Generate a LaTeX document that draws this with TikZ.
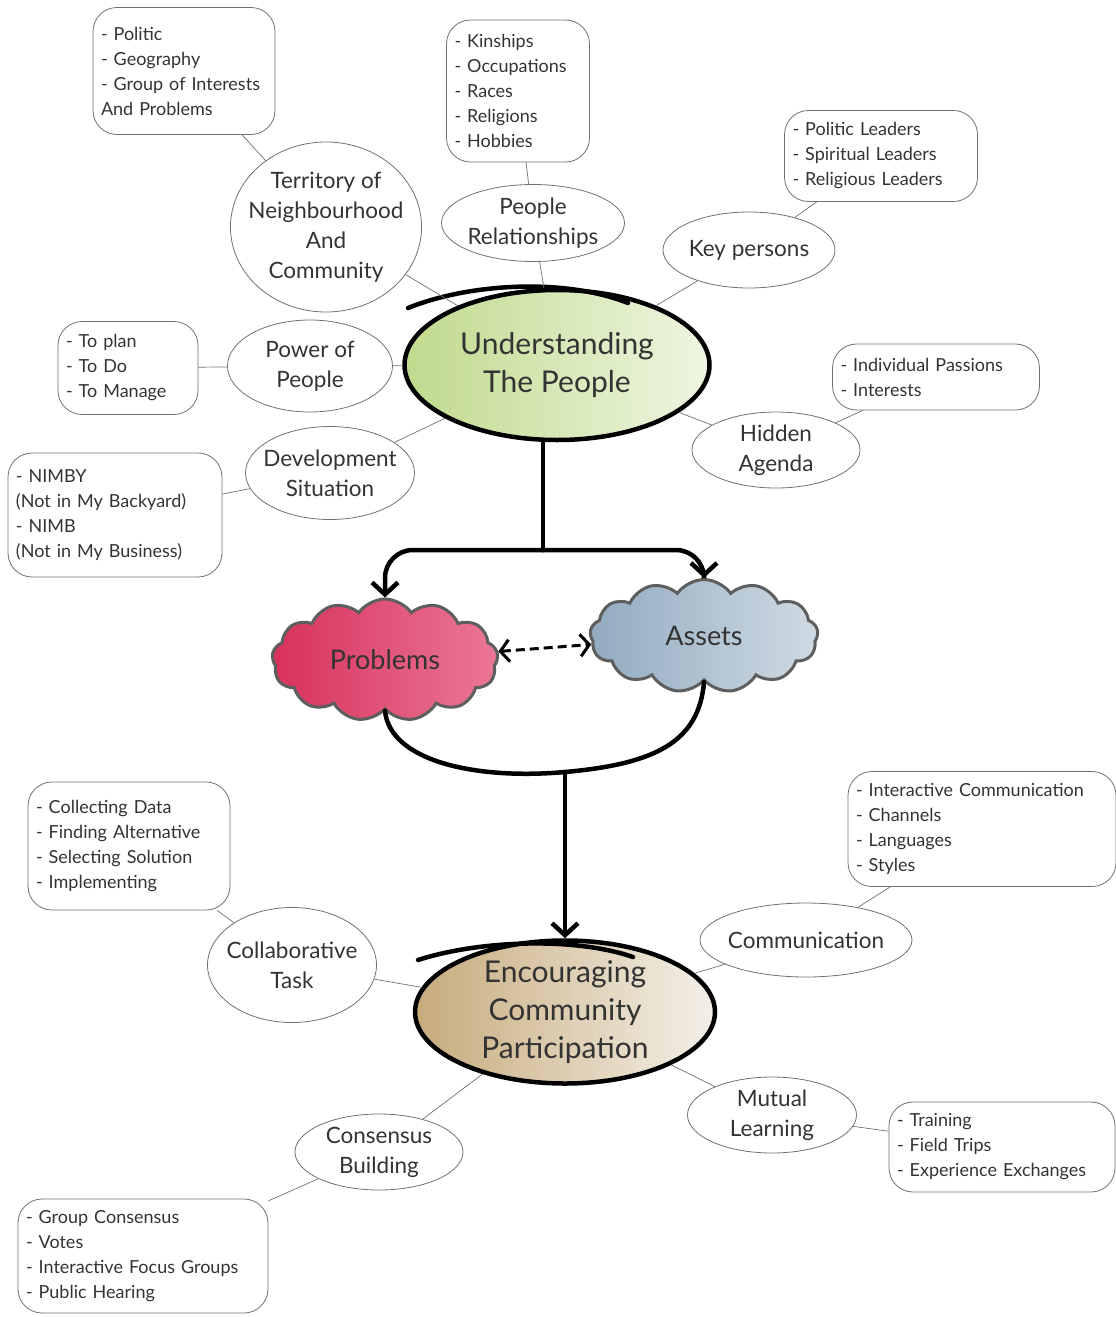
\documentclass[tikz,border=0pt]{standalone}
\usepackage{fontspec}
\setmainfont{Lato}
\usepackage{xcolor}
\usepackage{tikz}
\usetikzlibrary{positioning}
\usetikzlibrary{shapes.geometric,shapes.symbols}
\usetikzlibrary{arrows.meta}

\definecolor{ink}{HTML}{333333}
\definecolor{linegray}{HTML}{707070}
\definecolor{cloudgray}{HTML}{5E5E5E}
\definecolor{leafL}{HTML}{BFDA8C}
\definecolor{leafR}{HTML}{EEF6E2}
\definecolor{roseL}{HTML}{D8315A}
\definecolor{roseR}{HTML}{EA7896}
\definecolor{slateL}{HTML}{92AABF}
\definecolor{slateR}{HTML}{CFDBE4}
\definecolor{sandL}{HTML}{C6AB7C}
\definecolor{sandR}{HTML}{F4F0E8}

\begin{document}
\begin{tikzpicture}[x=1pt,y=-1pt,
		topic/.style={ellipse,draw=linegray,line width=0.8pt,align=center,inner sep=-10pt,text=ink,font=\fontsize{22.5}{30}\selectfont},
		items/.style={rectangle,rounded corners=24pt,draw=linegray,line width=0.8pt,align=left,inner xsep=8pt,inner ysep=0pt,text=ink,font=\fontsize{18}{25}\selectfont},
		hub/.style={ellipse,draw=black,line width=4.5pt,align=center,inner sep=-12pt,text=ink,font=\fontsize{30}{38}\selectfont},
		puff/.style={cloud,cloud puffs=13,cloud puff arc=110,aspect=1.9,draw=cloudgray,line width=3pt,inner sep=0pt,text=ink,font=\fontsize{27}{30}\selectfont},
		link/.style={draw=linegray,line width=0.7pt},
		flow/.style={line width=4.5pt,line cap=round},
		barb/.style={-{Straight Barb[length=12pt,width=26pt]}}]
		\useasboundingbox (0,0) rectangle (1116,1317);
		
		% Understanding the people
		\node[hub,minimum width=305pt,minimum height=150pt,left color=leafL,right color=leafR] at (557,365) (u0) {Understanding\\The People};
		\draw[flow] (408,308) .. controls (470,283) and (565,278) .. (628,303);
		
		\node[topic,minimum width=189pt,minimum height=170pt] at (326,227) (u1) {Territory of\\Neighbourhood\\And\\Community};
		\node[items,text width=166pt,minimum height=127pt] at (184,71) (u1a) {- Politic\\- Geography\\- Group of Interests\\And Problems};
		\node[topic,minimum width=183pt,minimum height=77pt] at (533,223) (u2) {People\\Relationships};
		\node[items,text width=127pt,minimum height=142pt] at (518,91) (u2a) {- Kinships\\- Occupations\\- Races\\- Religions\\- Hobbies};
		\node[topic,minimum width=172pt,minimum height=76pt] at (749,250) (u3) {Key persons};
		\node[items,text width=177pt,minimum height=91pt] at (881,156) (u3a) {- Politic Leaders\\- Spiritual Leaders\\- Religious Leaders};
		\node[topic,minimum width=165pt,minimum height=92pt] at (310,366) (u4) {Power of\\People};
		\node[items,text width=124pt,minimum height=93pt] at (128,368) (u4a) {- To plan\\- To Do\\- To Manage};
		\node[topic,minimum width=169pt,minimum height=93pt] at (330,473) (u5) {Development\\Situation};
		\node[items,text width=198pt,minimum height=124pt] at (115,515) (u5a) {- NIMBY\\(Not in My Backyard)\\- NIMB\\(Not in My Business)};
		\node[topic,minimum width=168pt,minimum height=76pt] at (776,450) (u6) {Hidden\\Agenda};
		\node[items,text width=191pt,minimum height=66pt] at (936,377) (u6a) {- Individual Passions\\- Interests};
		
		\draw[link] (u1a) -- (u1);
		\draw[link] (u1) -- (u0);
		\draw[link] (u2a) -- (u2);
		\draw[link] (u2) -- (u0);
		\draw[link] (u3a) -- (u3);
		\draw[link] (u3) -- (u0);
		\draw[link] (u4a) -- (u4);
		\draw[link] (u4) -- (u0);
		\draw[link] (u5a) -- (u5);
		\draw[link] (u5) -- (u0);
		\draw[link] (u6a) -- (u6);
		\draw[link] (u6) -- (u0);
		
		% problems and assets
		\node[puff,minimum width=226pt,minimum height=122pt,left color=roseL,right color=roseR] at (385,660) (pr) {Problems};
		\node[puff,minimum width=228pt,minimum height=113pt,left color=slateL,right color=slateR] at (704,636) (as) {Assets};
		
		\coordinate (split) at (543,550);
		\coordinate (merge) at (565,772);
		\draw[flow] (split |- u0.south) -- (split);
		\draw[flow,barb,rounded corners=28pt] (split) -| (pr.north);
		\draw[flow,barb,rounded corners=28pt] (split) -| (as.north);
		\draw[line width=3pt,dash pattern=on 9pt off 5pt,{Straight Barb[length=9pt,width=22pt]}-{Straight Barb[length=9pt,width=22pt]}] (pr) -- (as);
		\draw[flow] (pr.south) .. controls +(5,50) and +(-90,8) .. (merge);
		\draw[flow] (as.south) .. controls +(-5,60) and +(90,-8) .. (merge);
		
		% encouraging community participation
		\node[hub,minimum width=300pt,minimum height=143pt,left color=sandL,right color=sandR] at (565,1012) (e0) {Encouraging\\Community\\Participation};
		\draw[flow,barb] (merge) -- (merge |- e0.north);
		\draw[flow] (418,960) .. controls (480,940) and (575,937) .. (633,957);
		
		\node[topic,minimum width=169pt,minimum height=115pt] at (292,965) (e1) {Collaborative\\Task};
		\node[items,text width=186pt,minimum height=128pt] at (129,846) (e1a) {- Collecting Data\\- Finding Alternative\\- Selecting Solution\\- Implementing};
		\node[topic,minimum width=212pt,minimum height=74pt] at (806,940) (e2) {Communication};
		\node[items,text width=252pt,minimum height=115pt] at (982,829) (e2a) {- Interactive Communication\\- Channels\\- Languages\\- Styles};
		\node[topic,minimum width=169pt,minimum height=76pt] at (772,1115) (e3) {Mutual\\Learning};
		\node[items,text width=210pt,minimum height=90pt] at (1002,1147) (e3a) {- Training\\- Field Trips\\- Experience Exchanges};
		\node[topic,minimum width=168pt,minimum height=76pt] at (379,1152) (e4) {Consensus\\Building};
		\node[items,text width=234pt,minimum height=114pt] at (143,1256) (e4a) {- Group Consensus\\- Votes\\- Interactive Focus Groups\\- Public Hearing};
		
		\draw[link] (e1a) -- (e1);
		\draw[link] (e1) -- (e0);
		\draw[link] (e2a) -- (e2);
		\draw[link] (e2) -- (e0);
		\draw[link] (e3) -- (e0);
		\draw[link] (e3) -- (e3a);
		\draw[link] (e4) -- (e0);
		\draw[link] (e4a) -- (e4);
	\end{tikzpicture}
\end{document}
